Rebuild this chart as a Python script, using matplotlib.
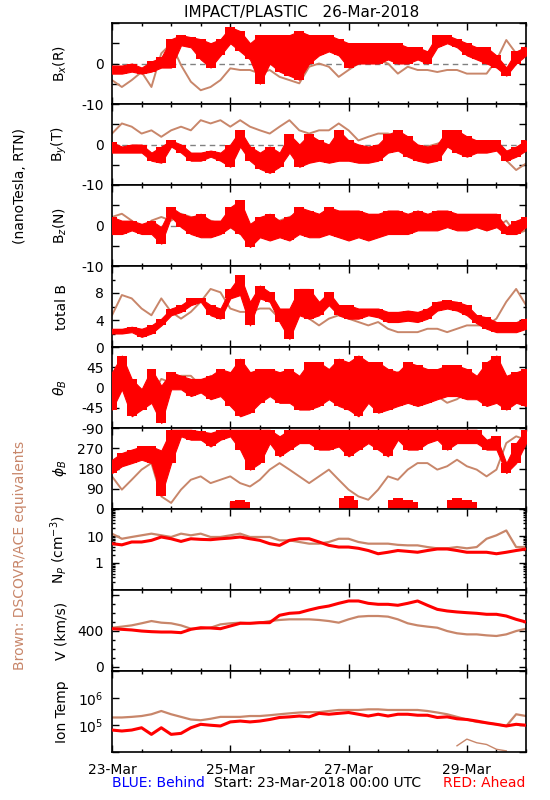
import numpy as np
import matplotlib
matplotlib.use("Agg")
import matplotlib.pyplot as plt
import matplotlib.dates as mdates

plt.rcParams['font.family'] = ['DejaVu Sans']

RED = '#ff0000'
BROWN = '#c8866a'

# 4-hourly samples from 23-Mar-2018 00:00 to 30-Mar-2018 00:00
hours = np.arange(0, 169, 4)

# B_x (R), nT
bx_red_lo = [-2.5, -2.5, -2, -2.5, -2, -1, -1, 4.5, 4, 1, -1, 2, 5, 3, 1, -5, 0, -2, -3, -4,
             0, 2, 3, 2, -1, 0, 0, 0, 1, 0, 0, 1, 0, 4, 5, 4, 2, 1, 0, -1, -3, 0, 2]
bx_red_hi = [-0.5, -0.5, 0, -1, 0.5, 1.5, 6, 7, 6.5, 6, 5, 6, 9, 8, 5, 7, 7, 7, 7, 8,
             7, 7, 7, 6, 5, 5, 5, 5, 5, 5, 4, 4, 3, 7, 7, 6, 5, 4, 4, 2, -1, 3, 4]
bx_brown = [-4.1, -5.8, -4.1, -2.1, -5.8, 2.5, 4.9, -0.4, -4.5, -6.6, -5.8, -4.1, -1.2, -1.6,
            -1.6, -2.5, -1.6, -3.3, -4.1, -4.9, -0.8, 0, -0.8, -3.3, -1.6, 0, 0.8, 0.8, 0,
            -2.5, -0.8, -1.6, -1.6, -2.1, -1.6, -1.6, -2.5, -2.5, -2.5, 0.8, 5.8, 2.5, 4.1]

# B_y (T), nT
by_red_lo = [-2, -2, -2, -2, -4, -4.5, -0.5, -2, -4, -4, -3, -4, -5.5, -0.5, -4, -6, -7, -5.5,
             -2, -5.5, -4.5, -4, -4.5, -4, -4, -4.5, -4.5, -4, -2, -1.5, -3, -4, -4.5, -4,
             -0.5, -2, -3, -2, -2, -1.5, -4, -3, -1.5]
by_red_hi = [0.5, -0.5, 0, 0, -2, -0.5, 1, 0, -2, -2, -1.5, -2, 0, 3.5, -0.5, -2, -0.5, -2,
             2.5, 0, 2.5, 1, 0, 3.5, 1, 0, -0.5, 0, 2.5, 3.5, 2, 0, -0.5, 0, 3.5, 3.5, 2, 1,
             1, 1, -1.5, -0.5, 1]
by_brown = [2.7, 5.2, 4.4, 2.7, 3.5, 1.9, 3.5, 4.4, 3.5, 6, 5.2, 6, 4.4, 6, 4.4, 3.5, 2.7, 4.4,
            6, 3.5, 2.7, 3.5, 3.5, 5.2, 3.5, 1, 1.9, 2.7, 2.7, 1.9, 1, -0.5, -0.5, 0.2, 1,
            0.2, 0.2, -0.5, -0.5, -0.5, -3.9, -6.3, -4.7]

# B_z (N), nT
bz_red_lo = [-2.1, -2.1, -1.2, -2.1, -2.1, -4.5, 2.1, -0.4, -2.1, -2.9, -2.9, -2.1, -0.4, -2.1,
             -5.3, -2.9, -3.7, -2.9, -3.7, -2.1, -2.9, -2.9, -2.1, -2.9, -3.7, -2.9, -3.7,
             -2.9, -2.1, -2.1, -2.1, -1.2, -1.2, -1.2, -0.4, -1.2, -1.2, -0.4, -1.2, -0.4,
             -2.1, -2.1, -0.4]
bz_red_hi = [2.1, 1.2, 1.2, 0.4, 1.2, -0.4, 4.5, 2.9, 2.1, 2.9, 1.2, 1.2, 4.5, 6.2, 0.4, 2.1,
             2.9, 1.2, 2.1, 4.5, 3.7, 2.9, 4.5, 3.7, 3.7, 3.7, 2.9, 2.9, 3.7, 3.7, 2.9, 3.7,
             2.9, 3.7, 3.7, 2.9, 2.9, 2.9, 2.9, 2.9, -0.4, 1.2, 2.1]
bz_brown = [2.1, 2.9, 1.2, -1.2, 1.2, 2.1, 1.2, 2.9, 2.1, 2.1, 1.2, 0.4, -0.4, -2.1, -1.2, -0.4,
            -1.2, 1.2, 2.1, 2.9, 1.2, -1.2, -2.1, -0.4, 1.2, 1.2, 0.4, -0.4, -0.4, -0.4, -0.4,
            -0.4, 0.4, -0.4, 0, 0, 0, -0.4, -1.2, -0.4, 1.2, -2.1, -1.2]

# total B, nT
btot_red_lo = [2.0, 2.0, 2.2, 1.5, 2.0, 3.2, 4.7, 5.2, 6.2, 6.7, 4.7, 4.2, 7.2, 7.7, 3.2, 7.2,
               6.7, 3.7, 1.2, 4.7, 4.2, 4.7, 6.2, 4.7, 4.2, 4.2, 4.7, 4.4, 3.7, 3.7, 3.9, 3.7,
               4.2, 5.4, 5.7, 5.4, 4.7, 3.5, 2.7, 2.2, 2.2, 2.2, 2.7]
btot_red_hi = [2.7, 2.7, 3.0, 2.7, 3.2, 4.2, 5.7, 6.2, 7.2, 7.2, 6.2, 5.7, 8.6, 10.6, 6.7, 9.1,
               8.1, 5.7, 5.7, 8.6, 8.6, 6.7, 8.1, 6.2, 6.2, 5.7, 5.7, 5.7, 5.2, 5.2, 5.4, 5.2,
               5.7, 6.7, 6.9, 6.7, 6.2, 4.7, 4.4, 3.7, 3.7, 3.7, 4.2]
btot_brown = [4.7, 7.7, 7.2, 5.7, 4.7, 7.2, 5.2, 4.2, 5.2, 6.7, 8.6, 8.1, 5.7, 5.2, 5.2, 5.7,
              5.7, 4.2, 4.7, 6.2, 4.2, 3.2, 4.2, 4.7, 4.2, 3.7, 3.2, 3.7, 2.7, 2.2, 2.2, 2.2,
              2.7, 2.7, 2.2, 2.7, 3.2, 3.2, 3.2, 4.2, 6.7, 8.6, 6.2]

# theta_B, deg
theta_red_lo = [-49, -4, -64, -49, -34, -79, -4, -4, -19, -11, -26, -19, -41, -64, -56, -34,
                -19, -34, -34, -49, -49, -41, -26, -41, -49, -64, -34, -56, -49, -41, -34,
                -41, -34, -26, -19, -19, -26, -26, -41, -34, -49, -34, -41]
theta_red_hi = [34, 71, 19, -4, 41, 4, 34, 26, 19, 19, 26, 41, 34, 64, 34, 41, 41, 34, 41, 26,
                56, 56, 41, 64, 56, 71, 56, 56, 41, 34, 56, 49, 41, 41, 49, 49, 41, 26, 56, 71,
                26, 34, 41]
theta_brown = [11, 41, 11, -4, -19, 19, 11, 26, 26, 4, 26, 11, -4, -19, 11, 34, 19, 4, -19, -4,
               -11, -34, -11, 11, 34, -4, -4, -19, 11, 34, 34, 4, -19, -19, -34, -26, -11, -19,
               -4, -11, -19, -34, -26]

# phi_B, deg
phi_red_lo = [160, 190, 204, 219, 204, 60, 204, 323, 308, 308, 278, 308, 323, 264, 175, 204,
              293, 234, 264, 293, 293, 264, 264, 278, 234, 264, 293, 264, 234, 308, 264, 264,
              293, 308, 264, 293, 293, 293, 264, 264, 160, 204, 293]
phi_red_hi = [219, 249, 264, 278, 278, 260, 352, 352, 352, 345, 338, 352, 352, 352, 352, 352,
              352, 323, 352, 352, 352, 352, 352, 352, 352, 352, 352, 352, 352, 352, 352, 352,
              352, 352, 352, 352, 352, 352, 308, 323, 204, 293, 352]
nan = np.nan
phi_red_wrap = [nan] * 12 + [35, 40, 30] + [nan] * 8 + [50, 60, 40, nan, nan, 40, 50, 40, 30,
                nan, nan, 40, 50, 40, 30, nan, nan, nan, nan, 20]
phi_brown = [145, 86, 130, 175, 204, 56, 27, 86, 130, 145, 115, 130, 145, 115, 100, 130, 175,
             204, 175, 145, 115, 145, 175, 130, 86, 56, 41, 86, 145, 130, 175, 204, 204, 175,
             190, 219, 190, 175, 145, 175, 293, 323, 308]

# proton density, cm^-3
np_red = [5.2, 4.7, 6.0, 6.0, 6.9, 9.2, 7.9, 6.3, 7.9, 7.5, 7.3, 7.9, 8.4, 9.2, 7.9, 6.9, 5.2,
          4.5, 6.9, 7.9, 7.9, 6.0, 4.5, 3.9, 3.9, 3.5, 2.9, 2.2, 2.5, 2.9, 2.7, 2.5, 2.9, 3.3,
          3.3, 2.9, 2.5, 2.5, 2.5, 2.2, 2.5, 2.9, 3.3]
np_brown = [12.2, 7.9, 9.2, 10.6, 12.2, 10.6, 9.2, 12.2, 10.6, 12.2, 9.2, 9.2, 10.6, 12.2, 9.2,
            9.2, 9.2, 6.9, 6.9, 6.0, 5.2, 5.2, 6.0, 7.9, 7.9, 6.0, 5.2, 5.2, 5.2, 4.7, 4.5, 4.5,
            3.9, 3.5, 3.5, 3.9, 3.5, 3.9, 7.9, 10.6, 16, 3.9, 3.9]

# bulk speed, km/s
v_red = [420, 413, 406, 394, 387, 383, 383, 376, 413, 431, 428, 420, 450, 480, 480, 487, 487,
         569, 591, 598, 628, 654, 672, 702, 728, 728, 702, 691, 691, 680, 702, 728, 680, 635,
         617, 606, 598, 591, 580, 580, 561, 524, 494]
v_brown = [431, 443, 457, 480, 505, 487, 480, 457, 420, 420, 431, 468, 480, 487, 480, 487, 505,
           517, 524, 524, 524, 517, 505, 487, 524, 554, 561, 561, 554, 524, 480, 457, 443, 431,
           394, 369, 357, 357, 346, 339, 357, 394, 420]

# ion temperature, K
t_red = [6.5e4, 6.0e4, 6.5e4, 7.9e4, 4.5e4, 7.9e4, 4.5e4, 4.9e4, 7.9e4, 1.06e5, 9.8e4, 9.2e4,
         1.3e5, 1.4e5, 1.3e5, 1.4e5, 1.6e5, 1.9e5, 2.0e5, 2.15e5, 2.0e5, 2.7e5, 2.5e5, 2.7e5,
         2.9e5, 2.5e5, 2.15e5, 2.5e5, 2.15e5, 2.5e5, 2.5e5, 2.3e5, 2.3e5, 1.9e5, 2.0e5, 1.7e5,
         1.6e5, 1.4e5, 1.2e5, 1.06e5, 9.2e4, 1.06e5, 9.8e4]
t_brown = [1.9e5, 1.9e5, 2.0e5, 2.15e5, 2.5e5, 3.3e5, 2.5e5, 2.0e5, 1.6e5, 1.5e5, 1.7e5, 2.0e5,
           2.0e5, 2.0e5, 2.15e5, 2.15e5, 2.3e5, 2.5e5, 2.7e5, 2.9e5, 3.0e5, 3.0e5, 3.3e5, 3.6e5,
           3.6e5, 3.6e5, 3.8e5, 3.8e5, 3.6e5, 3.6e5, 3.6e5, 3.6e5, 3.3e5, 2.9e5, 2.5e5, 2.0e5,
           1.6e5, 1.3e5, 1.2e5, 1.06e5, 9.2e4, 2.5e5, 2.15e5]
t_brown_low = [nan] * 35 + [1.7e4, 3.0e4, 2.2e4, 1.9e4, 1.26e4, 1.1e4, nan, nan]

t0 = np.datetime64('2018-03-23T00:00')
t = t0 + hours.astype('timedelta64[h]')
t_end = np.datetime64('2018-03-30T00:00')

fig = plt.figure(figsize=(5.5, 8), dpi=100)
W, H = 550.0, 800.0
left, right, top, ph = 112, 526, 23, 81

axes = []
for i in range(9):
    y0 = top + ph * (i + 1)
    ax = fig.add_axes([left / W, 1 - y0 / H, (right - left) / W, ph / H])
    axes.append(ax)


def red_band(ax, lo, hi):
    # low..high envelope of the noisy trace, plus the per-sample columns
    ax.fill_between(t, lo, hi, color=RED, lw=0.8, zorder=3)
    ax.fill_between(t, lo, hi, step='mid', color=RED, lw=0, zorder=3)


def band(ax, lo, hi, brown):
    ax.plot(t, brown, color=BROWN, lw=1.4, zorder=2)
    red_band(ax, lo, hi)


# magnetic field components
comps = [(bx_red_lo, bx_red_hi, bx_brown, r'B$_x$(R)'),
         (by_red_lo, by_red_hi, by_brown, r'B$_y$(T)'),
         (bz_red_lo, bz_red_hi, bz_brown, r'B$_z$(N)')]
for ax, (lo, hi, br, lab) in zip(axes[:3], comps):
    ax.axhline(0, color='0.5', ls=(0, (4, 3)), lw=1, zorder=1)
    band(ax, lo, hi, br)
    ax.set_ylim(-10, 10)
    ax.set_yticks([-10, -5, 0, 5, 10], ['-10', '', '0', '', ''])
    ax.set_ylabel(lab)

band(axes[3], btot_red_lo, btot_red_hi, btot_brown)
axes[3].set_ylim(0, 12)
axes[3].set_yticks([0, 4, 8, 12], ['0', '4', '8', ''])
axes[3].set_yticks([2, 6, 10], minor=True)
axes[3].set_ylabel('total B')

band(axes[4], theta_red_lo, theta_red_hi, theta_brown)
axes[4].set_ylim(-90, 90)
axes[4].set_yticks([-90, -45, 0, 45, 90], ['-90', '-45', '0', '45', ''])
axes[4].set_ylabel(r'$\theta_B$')

ax = axes[5]
band(ax, phi_red_lo, phi_red_hi, phi_brown)
ax.fill_between(t, 0, phi_red_wrap, step='mid', color=RED, lw=0, zorder=3)
ax.set_ylim(0, 360)
ax.set_yticks([0, 90, 180, 270, 360], ['0', '90', '180', '270', ''])
ax.set_ylabel(r'$\phi_B$')

ax = axes[6]
ax.plot(t, np_brown, color=BROWN, lw=1.6, zorder=2)
ax.plot(t, np_red, color=RED, lw=2.2, zorder=3)
ax.set_yscale('log')
ax.set_ylim(0.1, 100)
ax.set_yticks([0.1, 1, 10, 100], ['', '1', '10', ''])
ax.set_ylabel(r'N$_P$ (cm$^{-3}$)')

ax = axes[7]
ax.plot(t, v_brown, color=BROWN, lw=1.6, zorder=2)
ax.plot(t, v_red, color=RED, lw=2.2, zorder=3)
ax.set_ylim(-50, 850)
ax.set_yticks([0, 400, 800], ['0', '400', ''])
ax.set_yticks([100, 200, 300, 500, 600, 700], minor=True)
ax.set_ylabel('V (km/s)')

ax = axes[8]
ax.plot(t, t_brown, color=BROWN, lw=1.6, zorder=2)
ax.plot(t, t_brown_low, color=BROWN, lw=1.0, zorder=2)
ax.plot(t, t_red, color=RED, lw=2.2, zorder=3)
ax.set_yscale('log')
ax.set_ylim(1e4, 1e7)
ax.set_yticks([1e4, 1e5, 1e6, 1e7], ['', r'10$^5$', r'10$^6$', ''])
ax.set_ylabel('Ion Temp')

for i, ax in enumerate(axes):
    ax.set_xlim(t0, t_end)
    ax.xaxis.set_major_locator(mdates.DayLocator(bymonthday=[23, 25, 27, 29]))
    ax.xaxis.set_minor_locator(mdates.HourLocator(byhour=[0, 12]))
    ax.xaxis.set_major_formatter(mdates.DateFormatter('%d-%b'))
    ax.tick_params(which='both', direction='in', top=True, right=True, width=1, labelsize=10)
    ax.tick_params(which='major', length=5)
    ax.tick_params(which='minor', length=2.5)
    ax.tick_params(axis='y', pad=6)
    ax.tick_params(axis='x', pad=8)
    if i < 8:
        ax.tick_params(axis='x', labelbottom=False)
    ax.yaxis.set_label_coords(-0.105, 0.5)
    ax.yaxis.label.set_size(10)
    for s in ax.spines.values():
        s.set_linewidth(1.2)

fig.text(302 / W, 1 - 12 / H, 'IMPACT/PLASTIC   26-Mar-2018', ha='center', va='center',
         fontsize=11)
fig.text(20 / W, 1 - 186 / H, '(nanoTesla, RTN)', rotation=90, ha='center', va='center',
         fontsize=10)
fig.text(20 / W, 1 - 555 / H, 'Brown: DSCOVR/ACE equivalents', rotation=90, ha='center',
         va='center', fontsize=10, color=BROWN)
fig.text(112 / W, 1 - 783 / H, 'BLUE: Behind', ha='left', va='center', fontsize=10,
         color='blue')
fig.text(318 / W, 1 - 783 / H, 'Start: 23-Mar-2018 00:00 UTC', ha='center', va='center',
         fontsize=10)
fig.text(525 / W, 1 - 783 / H, 'RED: Ahead', ha='right', va='center', fontsize=10,
         color=RED)

fig.savefig('out.png', dpi=100)
